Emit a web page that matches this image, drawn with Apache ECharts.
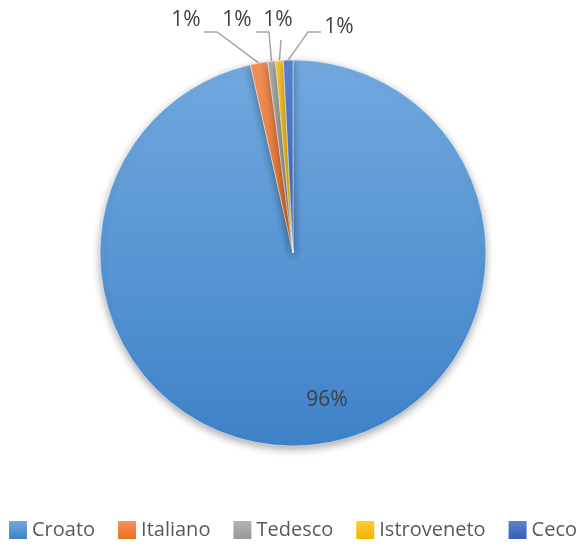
<!DOCTYPE html>
<html><head><meta charset="utf-8">
<script src="https://cdn.jsdelivr.net/npm/echarts@6/dist/echarts.min.js"></script>
<style>html,body{margin:0;padding:0;background:#fff}#c{width:587px;height:545px}</style>
</head><body><div id="c"></div>
<script>
var categories = ['Croato', 'Italiano', 'Tedesco', 'Istroveneto', 'Ceco'];
var values = [96.45, 1.45, 0.65, 0.65, 0.8];
var colors = ['#5B9BD5', '#ED7D31', '#A5A5A5', '#FFC000', '#4472C4'];
var colorsTop = ['#72A9DF', '#F4915A', '#B4B4B4', '#FFCB33', '#5A84CF'];
var colorsBottom = ['#3F82C8', '#E8701E', '#979797', '#F0B400', '#3560B6'];
var total = values.reduce(function (a, b) { return a + b; }, 0);

// label anchor (x, y) and leader elbow points
var labelPos = [[327, 400], [186, 20], [237, 20], [278, 20], [339, 27]];
var elbows = [null, [[217, 32], [204, 32]], [[269, 32], [256, 32]], [[281, 40]], [[308, 32], [321, 32]]];

var chart = echarts.init(document.getElementById('c'));
function grad(i) {
  return new echarts.graphic.LinearGradient(0, 0, 0, 1, [
    { offset: 0, color: colorsTop[i] },
    { offset: 1, color: colorsBottom[i] }
  ]);
}
var data = categories.map(function (n, i) {
  var item = { name: n, value: values[i], itemStyle: { color: grad(i) } };
  if (i === 0) {
    item.label = { position: 'inside' };
    item.labelLine = { show: false };
  }
  return item;
});
chart.setOption({
  animation: false,
  color: colors,
  legend: {
    top: 520,
    left: 9,
    right: 0,
    padding: 0,
    itemWidth: 18,
    itemHeight: 18,
    itemGap: 23,
    icon: 'rect',
    textStyle: { fontFamily: 'Open Sans', fontSize: 20, color: '#595959' },
    data: categories.map(function (n, i) { return { name: n, itemStyle: { color: grad(i), borderWidth: 0 } }; })
  },
  series: [{
    type: 'pie',
    center: [293, 253],
    radius: 193,
    startAngle: 90,
    clockwise: true,
    data: data,
    itemStyle: { borderColor: '#fff', borderWidth: 0.5, shadowBlur: 8, shadowColor: 'rgba(0,0,0,0.35)', shadowOffsetY: 3 },
    label: {
      show: true,
      position: 'outside',
      fontFamily: 'Open Sans',
      fontSize: 21,
      color: '#404040',
      formatter: function (p) { return Math.round(p.value / total * 100) + '%'; }
    },
    labelLine: { show: true, lineStyle: { color: '#A6A6A6', width: 1.5 } },
    labelLayout: function (p) {
      var i = p.dataIndex;
      var pos = labelPos[i];
      var out = { x: pos[0], y: pos[1], align: 'center', verticalAlign: 'middle' };
      if (elbows[i] && p.labelLinePoints) {
        out.labelLinePoints = [p.labelLinePoints[0]].concat(elbows[i]);
      }
      return out;
    }
  }]
});
</script></body></html>
